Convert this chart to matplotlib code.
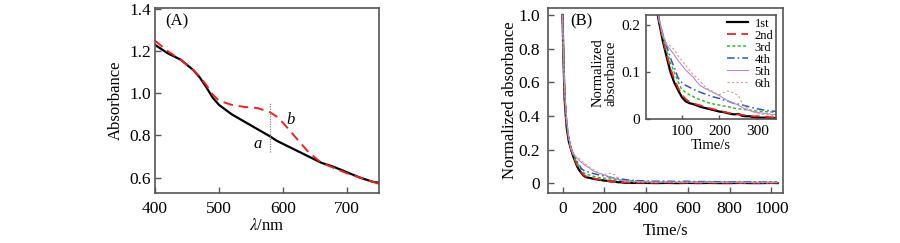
import numpy as np
import matplotlib
matplotlib.use('Agg')
import matplotlib.pyplot as plt

plt.rcParams['font.family'] = ['Liberation Serif', 'DejaVu Serif']
plt.rcParams['mathtext.fontset'] = 'stix'

## spectra (A)
wl = [400, 420, 440, 460, 470, 480, 490, 500, 520, 540, 560, 580, 590, 600, 620, 640, 660, 680, 700, 720, 740, 750]
abs_a = [1.23, 1.19, 1.16, 1.11, 1.075, 1.03, 0.98, 0.945, 0.90, 0.865, 0.83, 0.795, 0.775, 0.76, 0.73, 0.70, 0.67, 0.65, 0.625, 0.60, 0.58, 0.575]
abs_b = [1.25, 1.20, 1.16, 1.11, 1.08, 1.04, 0.995, 0.965, 0.945, 0.935, 0.93, 0.91, 0.89, 0.86, 0.79, 0.72, 0.67, 0.645, 0.62, 0.60, 0.58, 0.57]

## kinetics (B)
t = [0, 5, 10, 20, 30, 40, 50, 60, 70, 80, 90, 100, 110, 120, 130, 140, 150, 160, 170, 180,
     190, 200, 210, 220, 230, 240, 250, 260, 270, 280, 290, 300, 320, 340, 360, 400, 450, 500,
     550, 600, 650, 700, 750, 800, 850, 900, 950, 1000, 1030]
run1 = [1.0, 0.72, 0.50, 0.33, 0.25, 0.205, 0.165, 0.132, 0.10, 0.078, 0.062, 0.047, 0.038, 0.034,
        0.032, 0.029, 0.026, 0.024, 0.022, 0.020, 0.018, 0.016, 0.015, 0.013, 0.011, 0.010, 0.011,
        0.007, 0.006, 0.006, 0.004, 0.003, 0.003, 0.002, 0.002, 0.002, 0.001, 0.002, 0.001, 0.002,
        0.001, 0.002, 0.001, 0.001, 0.002, 0.001, 0.001, 0.002, 0.001]
run2 = [1.0, 0.73, 0.52, 0.34, 0.26, 0.21, 0.17, 0.138, 0.108, 0.085, 0.067, 0.052, 0.043, 0.037,
        0.034, 0.031, 0.029, 0.026, 0.024, 0.022, 0.020, 0.018, 0.016, 0.014, 0.012, 0.011, 0.010,
        0.009, 0.008, 0.007, 0.006, 0.006, 0.005, 0.004, 0.004, 0.004, 0.003, 0.005, 0.003, 0.004,
        0.003, 0.004, 0.003, 0.004, 0.003, 0.003, 0.004, 0.003, 0.003]
run3 = [1.0, 0.74, 0.53, 0.35, 0.265, 0.21, 0.175, 0.145, 0.12, 0.10, 0.08, 0.063, 0.057, 0.052,
        0.048, 0.044, 0.041, 0.038, 0.035, 0.033, 0.031, 0.030, 0.028, 0.027, 0.025, 0.023, 0.022,
        0.021, 0.020, 0.019, 0.018, 0.017, 0.016, 0.015, 0.014, 0.011, 0.009, 0.010, 0.008, 0.009,
        0.007, 0.008, 0.007, 0.007, 0.006, 0.007, 0.006, 0.006, 0.006]
run4 = [1.0, 0.75, 0.54, 0.36, 0.27, 0.21, 0.18, 0.155, 0.13, 0.11, 0.088, 0.078, 0.072, 0.068,
        0.064, 0.060, 0.057, 0.054, 0.051, 0.048, 0.046, 0.044, 0.041, 0.039, 0.036, 0.033, 0.032,
        0.030, 0.028, 0.026, 0.024, 0.022, 0.019, 0.017, 0.016, 0.013, 0.012, 0.012, 0.011, 0.012,
        0.010, 0.010, 0.009, 0.009, 0.008, 0.008, 0.007, 0.007, 0.006]
run5 = [1.0, 0.75, 0.55, 0.37, 0.275, 0.21, 0.18, 0.158, 0.148, 0.137, 0.125, 0.115, 0.105, 0.097,
        0.090, 0.079, 0.071, 0.066, 0.062, 0.058, 0.054, 0.050, 0.045, 0.040, 0.036, 0.033, 0.030,
        0.025, 0.021, 0.018, 0.016, 0.014, 0.012, 0.010, 0.010, 0.008, 0.007, 0.008, 0.006, 0.007,
        0.006, 0.006, 0.005, 0.006, 0.005, 0.005, 0.004, 0.005, 0.004]
run6 = [1.0, 0.75, 0.55, 0.37, 0.275, 0.21, 0.175, 0.162, 0.156, 0.148, 0.135, 0.125, 0.115, 0.105,
        0.095, 0.088, 0.080, 0.070, 0.064, 0.060, 0.055, 0.052, 0.056, 0.060, 0.058, 0.055, 0.050,
        0.035, 0.025, 0.020, 0.015, 0.012, 0.010, 0.008, 0.007, 0.006, 0.005, 0.006, 0.005, 0.005,
        0.004, 0.005, 0.004, 0.004, 0.003, 0.004, 0.003, 0.003, 0.003]

runs = [run1, run2, run3, run4, run5, run6]
run_labels = ['1st', '2nd', '3rd', '4th', '5th', '6th']
run_colors = ['black', '#ee2222', '#33bb33', '#3355bb', '#bb88cc', '#cc9999']
run_styles = ['-', (0, (5, 3)), (0, (2, 1.5)), (0, (5, 2, 1, 2)), '-', (0, (2, 2))]
run_widths = [1.6, 1.3, 1.1, 1.1, 0.8, 0.8]

spine_col = '#555555'


def style_ax(ax, fs):
    for s in ax.spines.values():
        s.set_color(spine_col)
        s.set_linewidth(1.2)
    ax.tick_params(direction='in', length=4, width=1, color=spine_col, labelsize=fs,
                   top=False, right=False, pad=6)


fig = plt.figure(figsize=(9, 2.43), dpi=100)

# panel A
axA = fig.add_axes([0.1722, 0.207, 0.2489, 0.760])
axA.plot(wl, abs_a, color='black', lw=1.6)
axA.plot(wl, abs_b, color='#ee2222', lw=1.4, ls=(0, (5, 3)))
axA.plot([580, 580], [0.72, 0.96], color='#888888', lw=0.9, ls=(0, (1, 1)))
axA.text(560, 0.76, 'a', fontstyle='italic', fontsize=12, ha='center', va='center')
axA.text(612, 0.875, 'b', fontstyle='italic', fontsize=12, ha='center', va='center')
axA.text(0.045, 0.93, '(A)', transform=axA.transAxes, fontsize=12, ha='left', va='center')
axA.set_xlim(400, 750)
axA.set_ylim(0.528, 1.405)
axA.set_xticks([400, 500, 600, 700])
axA.set_yticks([0.6, 0.8, 1.0, 1.2, 1.4])
axA.set_yticklabels(['0.6', '0.8', '1.0', '1.2', '1.4'])
style_ax(axA, 12.5)
axA.tick_params(axis='y', pad=3)
axA.set_xlabel(r'$\lambda$/nm', fontsize=12, labelpad=1)
axA.set_ylabel('Absorbance', fontsize=12, labelpad=4)

# panel B
axB = fig.add_axes([0.609, 0.207, 0.2613, 0.759])
for y, lab, c, ls, lw in zip(runs, run_labels, run_colors, run_styles, run_widths):
    axB.plot(t, y, color=c, ls=ls, lw=lw, label=lab)
axB.set_xlim(-69, 1057)
axB.set_ylim(-0.056, 1.04)
axB.set_xticks([0, 200, 400, 600, 800, 1000])
axB.set_yticks([0, 0.2, 0.4, 0.6, 0.8, 1.0])
axB.set_yticklabels(['0', '0.2', '0.4', '0.6', '0.8', '1.0'])
style_ax(axB, 12.5)
axB.set_xlabel('Time/s', fontsize=12, labelpad=4)
axB.set_ylabel('Normalized absorbance', fontsize=12, labelpad=0)
axB.text(0.095, 0.93, '(B)', transform=axB.transAxes, fontsize=12, ha='left', va='center')

# inset
axI = fig.add_axes([0.7178, 0.510, 0.1444, 0.428])
for y, lab, c, ls, lw in zip(runs, run_labels, run_colors, run_styles, run_widths):
    axI.plot(t, y, color=c, ls=ls, lw=lw, label=lab)
axI.set_xlim(5, 350)
axI.set_ylim(0, 0.222)
axI.set_xticks([100, 200, 300])
axI.set_yticks([0, 0.1, 0.2])
axI.set_yticklabels(['0', '0.1', '0.2'])
style_ax(axI, 11)
axI.tick_params(length=3, pad=4)
axI.set_xlabel('Time/s', fontsize=10.5, labelpad=1)
fig.text(0.672, 0.70, 'Normalized\nabsorbance', rotation=90, fontsize=10.5,
         ha='center', va='center', linespacing=1.0)
axI.legend(loc='upper right', frameon=False, fontsize=9, handlelength=1.7,
           labelspacing=0.0, borderaxespad=0.1, handletextpad=0.5,
           borderpad=0.1)

fig.savefig('out.png', dpi=100)
